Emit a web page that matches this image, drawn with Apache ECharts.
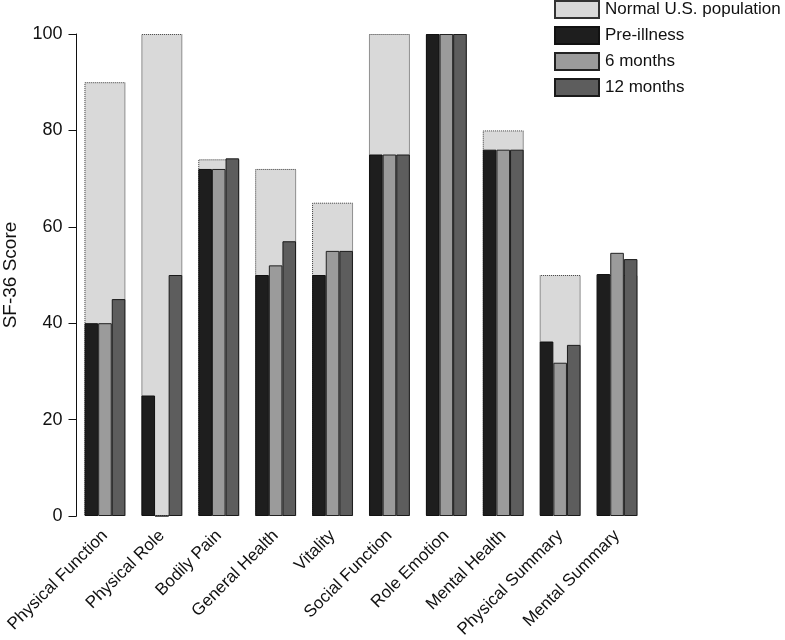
<!DOCTYPE html>
<html>
<head>
<meta charset="utf-8">
<script src="https://cdn.jsdelivr.net/npm/echarts@6/dist/echarts.min.js"></script>
<style>html,body{margin:0;padding:0;background:#fff}#c{width:785px;height:640px}</style>
</head>
<body>
<div id="c"></div>
<script>
var categories = ["Physical Function","Physical Role","Bodily Pain","General Health","Vitality","Social Function","Role Emotion","Mental Health","Physical Summary","Mental Summary"];
var normalPop = [90, 100, 74, 72, 65, 100, 100, 80, 50, 50];
var preIllness = [40, 25, 72, 50, 50, 75, 100, 76, 36.2, 50.2];
var sixMonths = [40, 0, 72, 52, 55, 75, 100, 76, 31.8, 54.6];
var twelveMonths = [45, 50, 74.2, 57, 55, 75, 100, 76, 35.5, 53.3];
var yTicks = [0, 20, 40, 60, 80, 100];

var font = "'Liberation Sans', Arial, Helvetica, sans-serif";
var chart = echarts.init(document.getElementById('c'), null, {renderer: 'canvas'});
chart.setOption({
  animation: false,
  textStyle: {fontFamily: font},
  grid: {left: 76.5, right: 139.5, top: 34, bottom: 124, containLabel: false, outerBoundsMode: 'none'},
  legend: {
    orient: 'vertical', left: 554, top: 0, padding: 0,
    itemWidth: 44, itemHeight: 17, itemGap: 7,
    icon: 'rect',
    textStyle: {fontSize: 17, lineHeight: 17, color: '#111', fontFamily: font, padding: [0,0,0,1]},
    data: ['Normal U.S. population', 'Pre-illness', '6 months', '12 months']
  },
  xAxis: [{
    type: 'category', data: categories, gridIndex: 0,
    axisLine: {show: false}, axisTick: {show: false},
    axisLabel: {rotate: 45, fontSize: 17, color: '#111', margin: 17, interval: 0, fontFamily: font}
  }, {
    type: 'category', data: categories, gridIndex: 0, show: false
  }],
  yAxis: {
    type: 'value', min: yTicks[0], max: yTicks[yTicks.length-1], interval: 20,
    name: 'SF-36 Score', nameLocation: 'middle', nameRotate: 90, nameGap: 56,
    nameTextStyle: {fontSize: 19, color: '#111', fontFamily: font},
    axisLine: {show: true, lineStyle: {color: '#111', width: 1}},
    axisTick: {show: true, length: 8, lineStyle: {color: '#111'}},
    axisLabel: {fontSize: 18, color: '#111', margin: 14, fontFamily: font},
    splitLine: {show: false}
  },
  series: [{
    name: 'Normal U.S. population', type: 'bar', xAxisIndex: 0, data: normalPop,
    barWidth: 41, z: 1,
    itemStyle: {color: '#d9d9d9', borderColor: '#333', borderWidth: 1, borderType: 'dotted'}
  }, {
    name: 'Pre-illness', type: 'bar', xAxisIndex: 1, data: preIllness,
    barWidth: 13.6, barGap: '0%', z: 3,
    itemStyle: {color: '#1e1e1e', borderColor: '#111', borderWidth: 1}
  }, {
    name: '6 months', type: 'bar', xAxisIndex: 1, data: sixMonths,
    barWidth: 13.6, barGap: '0%', z: 3,
    itemStyle: {color: '#9b9b9b', borderColor: '#222', borderWidth: 1}
  }, {
    name: '12 months', type: 'bar', xAxisIndex: 1, data: twelveMonths,
    barWidth: 13.6, barGap: '0%', z: 3,
    itemStyle: {color: '#5d5d5d', borderColor: '#1a1a1a', borderWidth: 1}
  }]
});
</script>
</body>
</html>
